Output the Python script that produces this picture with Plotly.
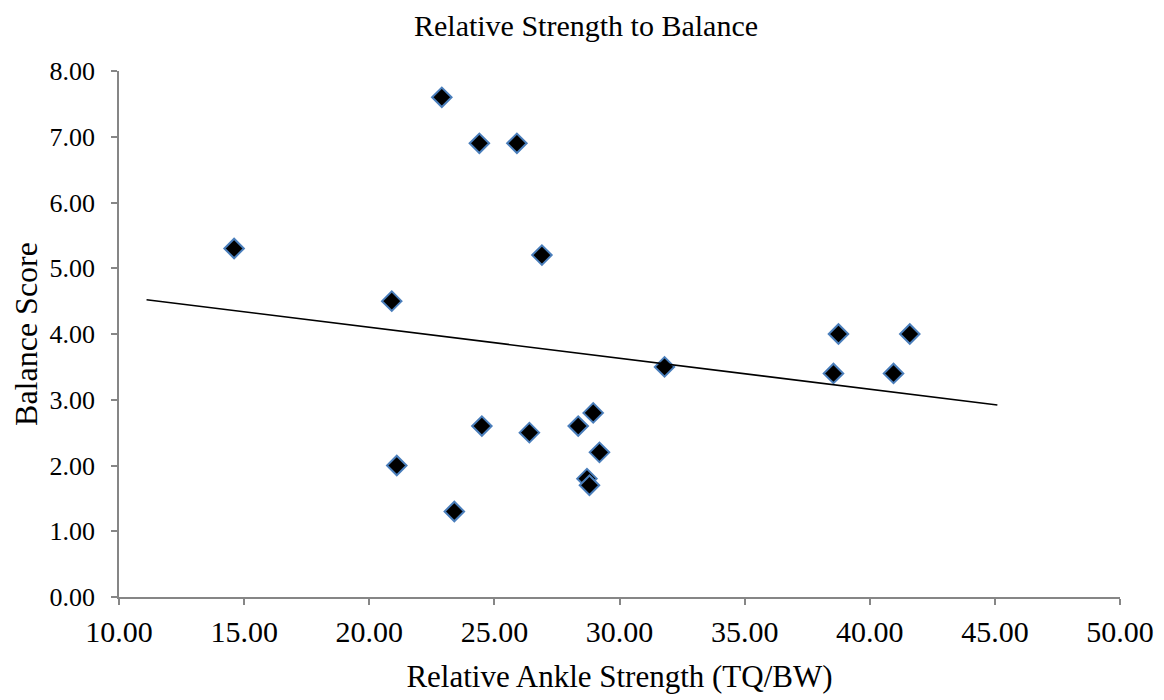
import numpy as np
import plotly.graph_objects as go

title = "Relative Strength to Balance"
x_title = "Relative Ankle Strength (TQ/BW)"
y_title = "Balance Score"

strength = [14.6, 20.9, 21.1, 22.9, 23.4, 24.4, 24.5, 25.9, 26.9, 26.4,
            28.35, 28.7, 28.8, 28.95, 29.2, 31.8, 38.55, 38.75, 40.95, 41.6]
balance = [5.3, 4.5, 2.0, 7.6, 1.3, 6.9, 2.6, 6.9, 5.2, 2.5,
           2.6, 1.8, 1.7, 2.8, 2.2, 3.5, 3.4, 4.0, 3.4, 4.0]

trend_span = [11.1, 45.1]  # trendline extent (forecast backward/forward)

slope, intercept = np.polyfit(strength, balance, 1)
tx = np.array(trend_span)
ty = slope * tx + intercept

FONT = "Liberation Serif, Times New Roman, serif"
AXIS_GRAY = "#868686"

fig = go.Figure()
fig.add_trace(go.Scatter(
    x=strength, y=balance, mode="markers",
    marker=dict(symbol="diamond", size=15, color="black",
                line=dict(color="#4a7ebb", width=2)),
    showlegend=False, hoverinfo="x+y"))
fig.add_trace(go.Scatter(
    x=tx, y=ty, mode="lines", line=dict(color="black", width=1.6),
    showlegend=False, hoverinfo="skip"))

fig.update_layout(
    width=1156, height=692,
    paper_bgcolor="white", plot_bgcolor="white",
    margin=dict(l=111, r=44, t=63, b=103),
    font=dict(family=FONT, color="black"),
    title=dict(text=title, x=0.5, xanchor="center", y=0.975, yanchor="middle",
               font=dict(size=30, family=FONT, color="black")),
)
fig.update_xaxes(
    range=[10, 50], dtick=5, tick0=10, tickformat=".2f", automargin=False,
    showgrid=False, zeroline=False, showline=True, linecolor=AXIS_GRAY, linewidth=1.5,
    ticks="outside", ticklen=6, tickcolor=AXIS_GRAY, tickwidth=1.5,
    ticklabelstandoff=1,
    tickfont=dict(size=30, family=FONT, color="black"),
    title=dict(text=x_title, font=dict(size=31, family=FONT, color="black"), standoff=19),
)
fig.update_yaxes(
    range=[0, 8], dtick=1, tick0=0, tickformat=".2f", automargin=False,
    showgrid=False, zeroline=False, showline=True, linecolor=AXIS_GRAY, linewidth=1.5,
    ticks="outside", ticklen=6, tickcolor=AXIS_GRAY, tickwidth=1.5,
    ticklabelstandoff=11,
    tickfont=dict(size=26, family=FONT, color="black"),
    title=dict(text=y_title, font=dict(size=32, family=FONT, color="black"), standoff=14),
)

fig.write_html("out.html")
